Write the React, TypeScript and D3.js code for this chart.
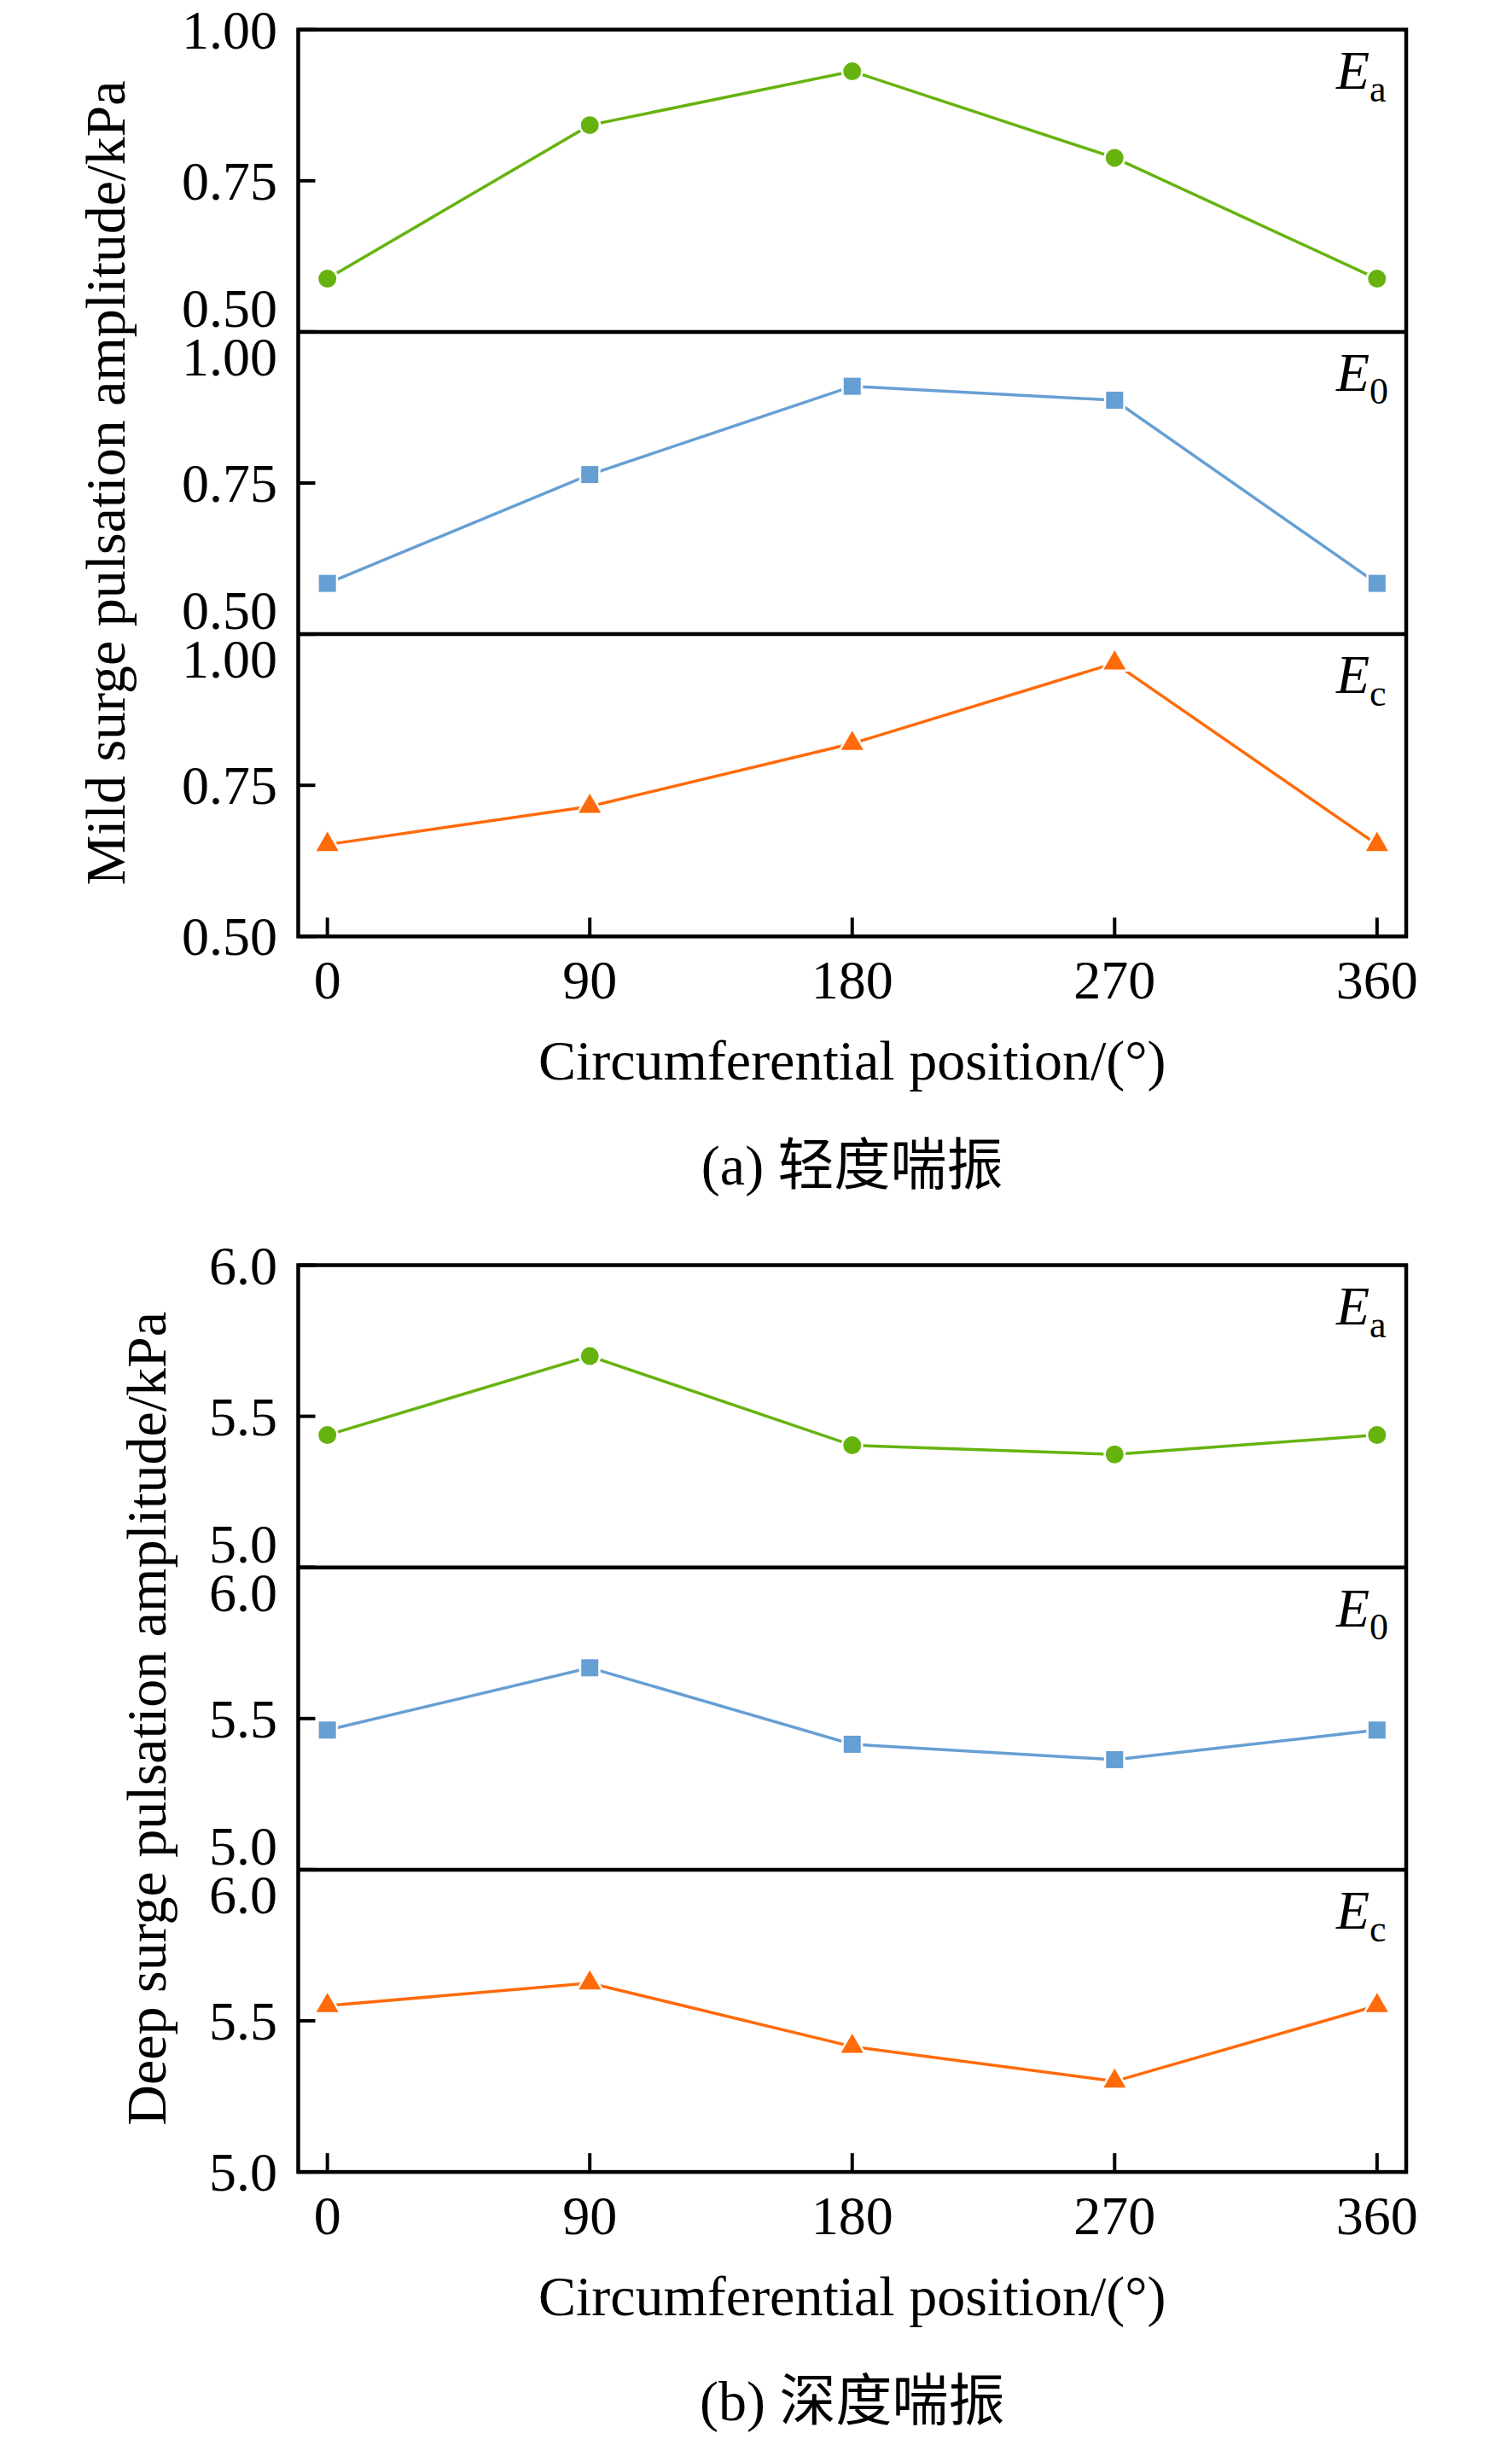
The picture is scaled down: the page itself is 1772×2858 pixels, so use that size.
import * as d3 from "d3";

// circumferential positions (deg)
const positions = [0, 90, 180, 270, 360];
const xTicks = [0, 90, 180, 270, 360];

// (a) mild surge, kPa
const mildEa = [0.588, 0.842, 0.931, 0.788, 0.588];
const mildE0 = [0.584, 0.764, 0.910, 0.887, 0.584];
const mildEc = [0.652, 0.715, 0.819, 0.952, 0.652];
const mildTicks = [0.5, 0.75, 1.0];

// (b) deep surge, kPa
const deepEa = [5.438, 5.699, 5.404, 5.374, 5.438];
const deepE0 = [5.462, 5.668, 5.415, 5.364, 5.462];
const deepEc = [5.55, 5.625, 5.415, 5.3, 5.55];
const deepTicks = [5.0, 5.5, 6.0];

const seriesNames = ["a", "0", "c"];
const seriesColors = ["#66b30f", "#669fd3", "#ff6a0a"];
const seriesSymbols = [d3.symbolCircle, d3.symbolSquare, d3.symbolTriangle];
const symbolSizes = [346, 400, 293];

const W = 1772;
const H = 2858;
const left = 349.5;
const right = 1648;
const panelH = 354.2;
const serif = "'Liberation Serif', 'Times New Roman', serif";
const cjk = "'Liberation Serif', 'Noto Sans CJK SC', serif";

const x = d3.scaleLinear().domain([-10, 370]).range([left, right]);

type GroupProps = {
  top: number;
  series: number[][];
  yDomain: [number, number];
  ticks: number[];
  fmt: (v: number) => string;
  yTitle: string;
  yTitleX: number;
  caption: string;
};

const Group = ({ top, series, yDomain, ticks, fmt, yTitle, yTitleX, caption }: GroupProps) => {
  const bottom = top + panelH * 3;
  const midY = (top + bottom) / 2;
  const midX = (left + right) / 2;
  return (
    <g>
      {series.map((vals, i) => {
        const pTop = top + panelH * i;
        const y = d3.scaleLinear().domain(yDomain).range([pTop + panelH, pTop]);
        const line = d3
          .line<number>()
          .x((_, j) => x(positions[j]))
          .y((v) => y(v));
        const sym = d3.symbol().type(seriesSymbols[i]).size(symbolSizes[i]);
        return (
          <g key={i}>
            {/* inner y ticks */}
            {ticks.map((t, k) => (
              <line key={k} x1={left} x2={left + 20} y1={y(t)} y2={y(t)} stroke="#000" strokeWidth={4} />
            ))}
            {/* y tick labels, nudged away from panel joins */}
            {ticks.map((t, k) => {
              let dy = 22;
              if (k === 0 && i < 2) dy -= 28;
              if (k === ticks.length - 1 && i > 0) dy += 29;
              return (
                <text key={k} x={325} y={y(t) + dy} textAnchor="end" fontSize={64} fontFamily={serif}>
                  {fmt(t)}
                </text>
              );
            })}
            <path d={line(vals) as string} fill="none" stroke={seriesColors[i]} strokeWidth={3.5} />
            {vals.map((v, j) => (
              <path
                key={j}
                d={sym() as string}
                transform={`translate(${x(positions[j])},${y(v)})`}
                fill={seriesColors[i]}
                stroke="#fff"
                strokeWidth={5}
                paintOrder="stroke"
              />
            ))}
            <text x={1566} y={pTop + 69} fontSize={64} fontFamily={serif} fontStyle="italic">
              E
              <tspan fontStyle="normal" fontSize={44} dy={15}>
                {seriesNames[i]}
              </tspan>
            </text>
            {i > 0 && <line x1={left} x2={right} y1={pTop} y2={pTop} stroke="#000" strokeWidth={4.5} />}
          </g>
        );
      })}
      {/* x ticks */}
      {xTicks.map((t) => (
        <g key={t}>
          <line x1={x(t)} x2={x(t)} y1={bottom} y2={bottom - 22} stroke="#000" strokeWidth={4} />
          <text x={x(t)} y={bottom + 73} textAnchor="middle" fontSize={64} fontFamily={serif}>
            {t}
          </text>
        </g>
      ))}
      <rect x={left} y={top} width={right - left} height={bottom - top} fill="none" stroke="#000" strokeWidth={4.5} />
      <text
        transform={`translate(${yTitleX},${midY}) rotate(-90)`}
        textAnchor="middle"
        fontSize={66}
        fontFamily={serif}
      >
        {yTitle}
      </text>
      <text x={midX} y={bottom + 168} textAnchor="middle" fontSize={66} fontFamily={serif}>
        Circumferential position/(°)
      </text>
      <text x={midX} y={bottom + 291} textAnchor="middle" fontSize={66} fontFamily={cjk}>
        {caption}
      </text>
    </g>
  );
};

export default function App() {
  return (
    <svg width={W} height={H} style={{ position: "absolute", left: 0, top: 0, background: "#fff" }}>
      <rect width={W} height={H} fill="#fff" />
      <Group
        top={34.7}
        series={[mildEa, mildE0, mildEc]}
        yDomain={[0.5, 1.0]}
        ticks={mildTicks}
        fmt={d3.format(".2f")}
        yTitle="Mild surge pulsation amplitude/kPa"
        yTitleX={146}
        caption="(a) 轻度喘振"
      />
      <Group
        top={1482.5}
        series={[deepEa, deepE0, deepEc]}
        yDomain={[5.0, 6.0]}
        ticks={deepTicks}
        fmt={d3.format(".1f")}
        yTitle="Deep surge pulsation amplitude/kPa"
        yTitleX={194}
        caption="(b) 深度喘振"
      />
    </svg>
  );
}
